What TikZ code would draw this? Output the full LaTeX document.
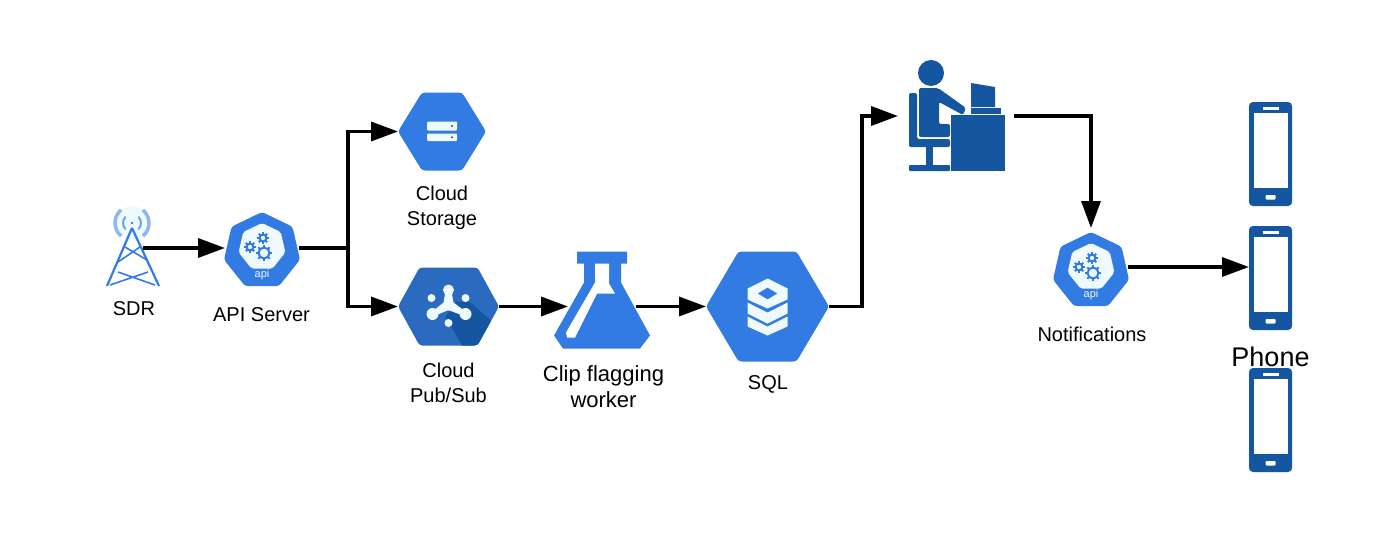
\documentclass[tikz,border=0pt]{standalone}
\usepackage{fontspec}
\setmainfont{Liberation Sans}
\usetikzlibrary{positioning,calc,shapes.geometric,arrows.meta}
\definecolor{HexBlue}{RGB}{50,123,226}
\definecolor{PubBlue}{RGB}{42,107,192}
\definecolor{DeepBlue}{RGB}{21,86,160}
\definecolor{IconWhite}{RGB}{238,250,253}
\newcommand{\hexpath}[3]{(-#1,0) -- (-#3,-#2) -- (#3,-#2) -- (#1,0) -- (#3,#2) -- (-#3,#2) -- cycle}
\tikzset{
  iconbox/.style={inner sep=0pt,outer sep=0pt},
  caption/.style={inner sep=0pt,align=center,font=\fontsize{20}{25}\selectfont},
  link/.style={line width=3.5pt,black,-{Triangle[length=27pt,width=19pt]}},
  pics/hexagon/.style n args={4}{code={
    \fill[#4,rounded corners=3pt] \hexpath{#1}{#2}{#3};}},
  pics/gear/.style={code={
    \draw[HexBlue,line width=2pt] (0,0) circle (#1);
    \foreach \a in {0,45,...,315} \draw[HexBlue,line width=1.8pt] (\a:#1) -- (\a:#1+2.6);}},
  pics/apihept/.style={code={
    \node[regular polygon,regular polygon sides=7,minimum size=78pt,inner sep=0pt,fill=HexBlue,rounded corners=3pt] (-body) at (0,0) {};
    \node[regular polygon,regular polygon sides=7,minimum size=48pt,inner sep=0pt,fill=IconWhite,rounded corners=2pt] (-core) at (0,-4) {};
    \pic at (2,2) {gear=5.5};
    \pic at (1,-13) {gear=3.4};
    \pic at (-12,-4) {gear=3.4};
    \node[inner sep=0pt,text=IconWhite,font=\fontsize{11}{12}\selectfont] (-word) at (0,24) {api};}},
  pics/phoneicon/.style={code={
    \fill[DeepBlue,rounded corners=4pt] (-21.5,-52) rectangle (21.5,52);
    \fill[white] (-17,-41) rectangle (17,34);
    \fill[white] (-8,-47) rectangle (8,-44.5);
    \fill[white,rounded corners=1pt] (-5,41) rectangle (5,45.5);}}
}
\begin{document}
\begin{tikzpicture}[x=1pt,y=-1pt]
\useasboundingbox (0,0) rectangle (1400,533);
\node[iconbox,minimum width=20pt,minimum height=78pt] (sdr) at (133,248) {};
\node[iconbox,minimum width=74pt,minimum height=76pt] (api) at (262,248) {};
\coordinate (split) at (348,248);
\node[iconbox,minimum width=88pt,minimum height=78pt] (storage) at (442,131.5) {};
\node[iconbox,minimum width=101pt,minimum height=78pt] (pubsub) at (448.5,306.5) {};
\node[iconbox,minimum width=68pt,minimum height=97pt] (flask) at (602,306.5) {};
\node[iconbox,minimum width=123pt,minimum height=110pt] (sql) at (767.5,306.5) {};
\node[iconbox,minimum width=116pt,minimum height=100pt] (person) at (956,116) {};
\node[iconbox,minimum width=74pt,minimum height=78pt] (notify) at (1091,267) {};
\node[iconbox,minimum width=43pt,minimum height=104pt] (phonea) at (1270.5,154) {};
\node[iconbox,minimum width=43pt,minimum height=104pt] (phoneb) at (1270.5,278) {};
\node[iconbox,minimum width=43pt,minimum height=104pt] (phonec) at (1270.5,420) {};
% labels
\node[caption,below=14pt of sdr,xshift=1pt] (sdrlabel) {SDR};
\node[caption,below=21pt of api,xshift=-0.5pt] (apilabel) {API Server};
\node[caption,below=15pt of storage] (storagelabel) {Cloud\\Storage};
\node[caption,below=17.5pt of pubsub] (pubsublabel) {Cloud\\Pub/Sub};
\node[caption,below=10pt of flask,xshift=1.5pt,font=\fontsize{22}{26}\selectfont] (flasklabel) {Clip flagging\\worker};
\node[caption,below=14pt of sql,xshift=0.5pt] (sqllabel) {SQL};
\node[caption,below=21pt of notify,xshift=1pt] (notifylabel) {Notifications};
\node[caption,below=17pt of phoneb,font=\fontsize{27}{30}\selectfont] (phonelabel) {Phone};
% tower
\begin{scope}[shift={(sdr.center)}]
\fill[IconWhite] (-1,-25) circle (17);
\draw[HexBlue,line width=2.2pt] (-1,-20) -- (-26,38) (-1,-20) -- (26,38);
\draw[HexBlue,line width=1.6pt] (-8,-1) -- (14,12) (7,-1) -- (-15,14) (-15,24) -- (22,37) (15,24) -- (-23,37);
\fill[HexBlue] (-1,-25) circle (1.4);
\draw[HexBlue!70,line width=2pt] (-1,-25) ++(-45:9) arc (-45:45:9);
\draw[HexBlue!70,line width=2pt] (-1,-25) ++(135:9) arc (135:225:9);
\draw[HexBlue!55,line width=3.5pt] (-1,-25) ++(-50:17) arc (-50:50:17);
\draw[HexBlue!55,line width=3.5pt] (-1,-25) ++(130:17) arc (130:230:17);
\end{scope}
% api badges
\pic (apibadge) at ($(api)+(0,3)$) {apihept};
\pic (notifybadge) at ($(notify)+(0,4)$) {apihept};
% storage
\pic at (storage) {hexagon={44}{39}{20}{HexBlue}};
\begin{scope}[shift={(storage.center)}]
\fill[IconWhite,rounded corners=1pt] (-15,-10) rectangle (15,-1);
\fill[IconWhite,rounded corners=1pt] (-15,2) rectangle (15,9.5);
\fill[DeepBlue] (10,-5.5) circle (1.1) (10,5.8) circle (1.1);
\end{scope}
% pub/sub
\pic at (pubsub) {hexagon={50.5}{39}{29}{PubBlue}};
\begin{scope}[shift={(pubsub.center)}]
\clip[rounded corners=3pt] \hexpath{50.5}{39}{29};
\fill[DeepBlue] (8,-5) -- (21.5,-4.5) -- (60,30) -- (60,50) -- (20,50) -- (1.5,18) -- (-3,10) -- cycle;
\fill[IconWhite] (-3,-15) -- (3,-15) -- (5,-4) -- (17,5) -- (17,10) -- (1,4) -- (-1,4) -- (-16,10) -- (-16,5) -- (-5,-4) -- cycle;
\fill[IconWhite] (0,-16.5) circle (5.5) (-16,7.5) circle (6) (17,7.5) circle (6) (0,16.5) circle (4) (-17,-8.5) circle (4) (17,-8.5) circle (4);
\end{scope}
% flask
\begin{scope}[shift={(flask.center)}]
\fill[HexBlue] (-25,-55) -- (25,-55) -- (25,-43) -- (19,-43) -- (19,-24) -- (48,29) -- (38,42) -- (-39,42) -- (-48,29) -- (-18,-24) -- (-18,-43) -- (-25,-43) -- cycle;
\fill[white] (-7,-43) -- (7,-43) -- (7,-23) -- (13,-13) -- (-5,-13) -- (-27,31) -- (-35,31) -- (-36,26) -- (-7,-24) -- cycle;
\end{scope}
% sql
\pic at (sql) {hexagon={61.5}{55}{29}{HexBlue}};
\begin{scope}[shift={(sql.center)}]
\fill[IconWhite,even odd rule] (0,-28) -- (20,-18) -- (20,-7) -- (0,2) -- (-20,-7) -- (-20,-18) -- cycle (0,-19) -- (10,-13) -- (0,-7) -- (-10,-13) -- cycle;
\fill[IconWhite] (-20,-4) -- (0,6) -- (20,-4) -- (20,7) -- (0,17) -- (-20,7) -- cycle;
\fill[IconWhite] (-20,10) -- (0,20) -- (20,10) -- (20,20) -- (0,29) -- (-20,20) -- cycle;
\end{scope}
% person at desk
\begin{scope}[shift={(person.center)},DeepBlue]
\fill (-25,-43) circle (13);
\fill[rounded corners=2pt] (-37,-28) -- (-18,-28) -- (10,-8) -- (7,-1) -- (-17,-14) -- (-17,8) -- (-6,8) -- (-6,21) -- (-37,21) -- cycle;
\fill[rounded corners=2pt] (-47,-23) -- (-39,-23) -- (-39,23) -- (-6,23) -- (-6,31) -- (-47,31) -- cycle;
\fill (-30,31) rectangle (-23,49);
\fill[rounded corners=1pt] (-47,49) rectangle (-6,55);
\fill (-5,-1) rectangle (49,55);
\fill (15,-33) -- (39,-29) -- (39,-9) -- (15,-9) -- cycle;
\fill (15,-8) rectangle (45,-2);
\end{scope}
% phones
\pic at (phonea) {phoneicon};
\pic at (phoneb) {phoneicon};
\pic at (phonec) {phoneicon};
% connectors
\draw[link] (sdr.east) -- (api.west);
\draw[line width=3.5pt] (api.east) -- (split);
\draw[link] (split) |- (storage.west);
\draw[link] (split) |- (pubsub.west);
\draw[link] (pubsub.east) -- (flask.west);
\draw[link] (flask.east) -- (sql.west);
\draw[link] (sql.east) -- ++(33,0) |- (person.west);
\draw[link] (person.east) -| (notify.north);
\draw[link] (notify.east) -- (notify.east -| phoneb.west);
\end{tikzpicture}
\end{document}
